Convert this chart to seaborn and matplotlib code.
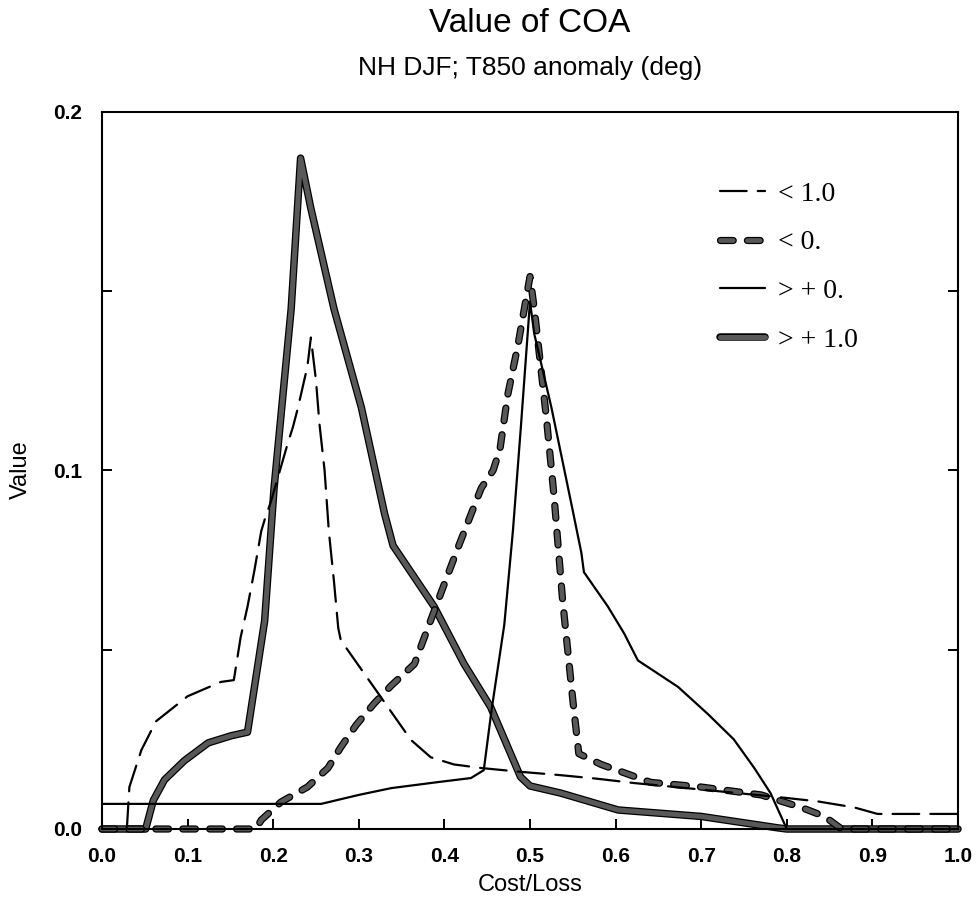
import numpy as np
import pandas as pd
import matplotlib
matplotlib.use("Agg")
import matplotlib.pyplot as plt
import matplotlib.patheffects as pe
import seaborn as sns

# ---------------- data ----------------
series_names = ["< 1.0", "< 0.", "> + 0.", "> + 1.0"]

x_lt1 = [0.029, 0.032, 0.046, 0.063, 0.10, 0.139, 0.154, 0.157, 0.162, 0.170, 0.178,
         0.186, 0.191, 0.197, 0.217, 0.223, 0.229, 0.240, 0.244, 0.250, 0.254, 0.260,
         0.265, 0.271, 0.276, 0.279, 0.318, 0.361, 0.384, 0.411, 0.443, 0.486, 0.536,
         0.579, 0.622, 0.700, 0.790, 0.836, 0.879, 0.906, 1.0]
y_lt1 = [0.0, 0.0117, 0.022, 0.030, 0.037, 0.041, 0.0415, 0.046, 0.0535, 0.062, 0.072,
         0.083, 0.087, 0.091, 0.1075, 0.112, 0.1175, 0.129, 0.137, 0.125, 0.113, 0.100,
         0.083, 0.069, 0.056, 0.0526, 0.0394, 0.0248, 0.020, 0.018, 0.017, 0.016, 0.015,
         0.014, 0.0128, 0.011, 0.0089, 0.0077, 0.006, 0.0042, 0.0042]

x_lt0 = [0.0, 0.180, 0.186, 0.209, 0.240, 0.264, 0.279, 0.297, 0.318, 0.338, 0.365,
         0.390, 0.416, 0.443, 0.457, 0.465, 0.474, 0.486, 0.500, 0.505, 0.512, 0.519,
         0.528, 0.538, 0.550, 0.557, 0.583, 0.641, 0.700, 0.770, 0.817, 0.844, 0.864, 1.0]
y_lt0 = [0.0, 0.0, 0.0025, 0.0075, 0.0117, 0.017, 0.0228, 0.029, 0.035, 0.040, 0.046,
         0.062, 0.0785, 0.095, 0.100, 0.106, 0.121, 0.135, 0.154, 0.145, 0.130, 0.115,
         0.093, 0.064, 0.036, 0.021, 0.018, 0.013, 0.0117, 0.0095, 0.006, 0.0035, 0.0, 0.0]

x_gt0 = [0.0, 0.256, 0.300, 0.338, 0.390, 0.431, 0.446, 0.455, 0.470, 0.480, 0.489,
         0.500, 0.505, 0.525, 0.548, 0.560, 0.563, 0.591, 0.610, 0.626, 0.673, 0.708,
         0.738, 0.762, 0.781, 0.800, 1.0]
y_gt0 = [0.007, 0.007, 0.0095, 0.0114, 0.013, 0.0142, 0.0164, 0.033, 0.057, 0.083, 0.111,
         0.147, 0.138, 0.1175, 0.091, 0.077, 0.0716, 0.062, 0.0545, 0.047, 0.0396, 0.032,
         0.025, 0.017, 0.010, 0.0, 0.0]

x_gt1 = [0.0, 0.051, 0.060, 0.073, 0.096, 0.124, 0.151, 0.170, 0.190, 0.201, 0.209,
         0.221, 0.232, 0.244, 0.271, 0.303, 0.330, 0.340, 0.388, 0.423, 0.454, 0.489,
         0.500, 0.536, 0.603, 0.700, 0.790, 0.800, 1.0]
y_gt1 = [0.0, 0.0, 0.008, 0.0137, 0.019, 0.024, 0.026, 0.027, 0.058, 0.095, 0.115,
         0.145, 0.187, 0.173, 0.145, 0.1175, 0.088, 0.079, 0.062, 0.046, 0.034, 0.0145,
         0.012, 0.010, 0.0053, 0.0035, 0.0003, 0.0, 0.0]

x_ticks = [0.0, 0.1, 0.2, 0.3, 0.4, 0.5, 0.6, 0.7, 0.8, 0.9, 1.0]
x_tick_labels = ["0.0", "0.1", "0.2", "0.3", "0.4", "0.5", "0.6", "0.7", "0.8", "0.9", "1.0"]
y_ticks = [0.0, 0.1, 0.2]
y_tick_labels = ["0.0", "0.1", "0.2"]
y_minor_ticks = [0.05, 0.15]

title = "Value of COA"
subtitle = "NH DJF; T850 anomaly (deg)"
xlabel = "Cost/Loss"
ylabel = "Value"

# ---------------- build long table ----------------
frames = []
for name, xs, ys in zip(series_names, [x_lt1, x_lt0, x_gt0, x_gt1],
                        [y_lt1, y_lt0, y_gt0, y_gt1]):
    frames.append(pd.DataFrame({"cost_loss": xs, "value": ys, "series": name}))
df = pd.concat(frames, ignore_index=True)

# ---------------- style ----------------
sns.set_theme(style="ticks")
plt.rcParams["font.family"] = ["Liberation Sans", "DejaVu Sans"]
plt.rcParams["text.color"] = "black"
plt.rcParams["axes.labelcolor"] = "black"
plt.rcParams["xtick.color"] = "black"
plt.rcParams["ytick.color"] = "black"

fig = plt.figure(figsize=(9.76, 9.19), dpi=100)
ax = fig.add_axes([102 / 976, 1 - 829 / 919, 856 / 976, 717.5 / 919])

gray_fill = "#585858"
styles = {
    "> + 1.0": dict(color=gray_fill, lw=3.6, ls="-",
                    fx=[pe.Stroke(linewidth=5.4, foreground="black"), pe.Normal()]),
    "< 0.": dict(color=gray_fill, lw=3.4, ls=(0, (2.7, 3.0)),
                 fx=[pe.Stroke(linewidth=5.2, foreground="black"), pe.Normal()]),
    "< 1.0": dict(color="black", lw=1.6, ls=(0, (12, 5)), fx=None),
    "> + 0.": dict(color="black", lw=1.6, ls="-", fx=None),
}
draw_order = ["> + 1.0", "< 0.", "< 1.0", "> + 0."]
handles = {}
for name in draw_order:
    st = styles[name]
    sub = df[df["series"] == name]
    sns.lineplot(data=sub, x="cost_loss", y="value", ax=ax, estimator=None,
                 sort=False, color=st["color"], linewidth=st["lw"], label=name,
                 legend=False)
    line = ax.lines[-1]
    line.set_linestyle(st["ls"])
    line.set_dash_capstyle("round")
    line.set_solid_capstyle("round")
    line.set_solid_joinstyle("round")
    line.set_clip_on(False)
    if st["fx"] is not None:
        line.set_path_effects(st["fx"])
    handles[name] = line

ax.set_xlim(0, 1)
ax.set_ylim(0, 0.2)
ax.set_xticks(x_ticks)
ax.set_xticklabels(x_tick_labels, fontweight="bold")
ax.set_yticks(y_ticks)
ax.set_yticklabels(y_tick_labels, fontweight="bold")
ax.set_yticks(y_minor_ticks, minor=True)
ax.tick_params(axis="both", which="both", direction="in", length=7, width=1.4,
               labelsize=15)
ax.tick_params(axis="y", which="both", left=True, right=True, pad=14)
ax.tick_params(axis="x", which="both", top=False, pad=13)
for sp in ax.spines.values():
    sp.set_visible(True)
    sp.set_color("black")
    sp.set_linewidth(1.5)
ax.set_xlabel("")
ax.set_ylabel("")

fig.text(530 / 976, 1 - 23 / 919, title, ha="center", va="center", fontsize=24)
fig.text(530 / 976, 1 - 68 / 919, subtitle, ha="center", va="center", fontsize=19)
fig.text(530 / 976, 1 - 885 / 919, xlabel, ha="center", va="center", fontsize=17)
fig.text(21 / 976, 1 - 470 / 919, ylabel, ha="center", va="center", fontsize=17,
         rotation=90)

leg = ax.legend([handles[n] for n in series_names], series_names,
                loc="upper left", bbox_to_anchor=(0.722, 0.903), frameon=False,
                borderpad=0, borderaxespad=0, handlelength=1.62, handletextpad=0.47,
                labelspacing=0.84, prop={"family": "Liberation Serif", "size": 20})

fig.savefig("out.png", dpi=100)
